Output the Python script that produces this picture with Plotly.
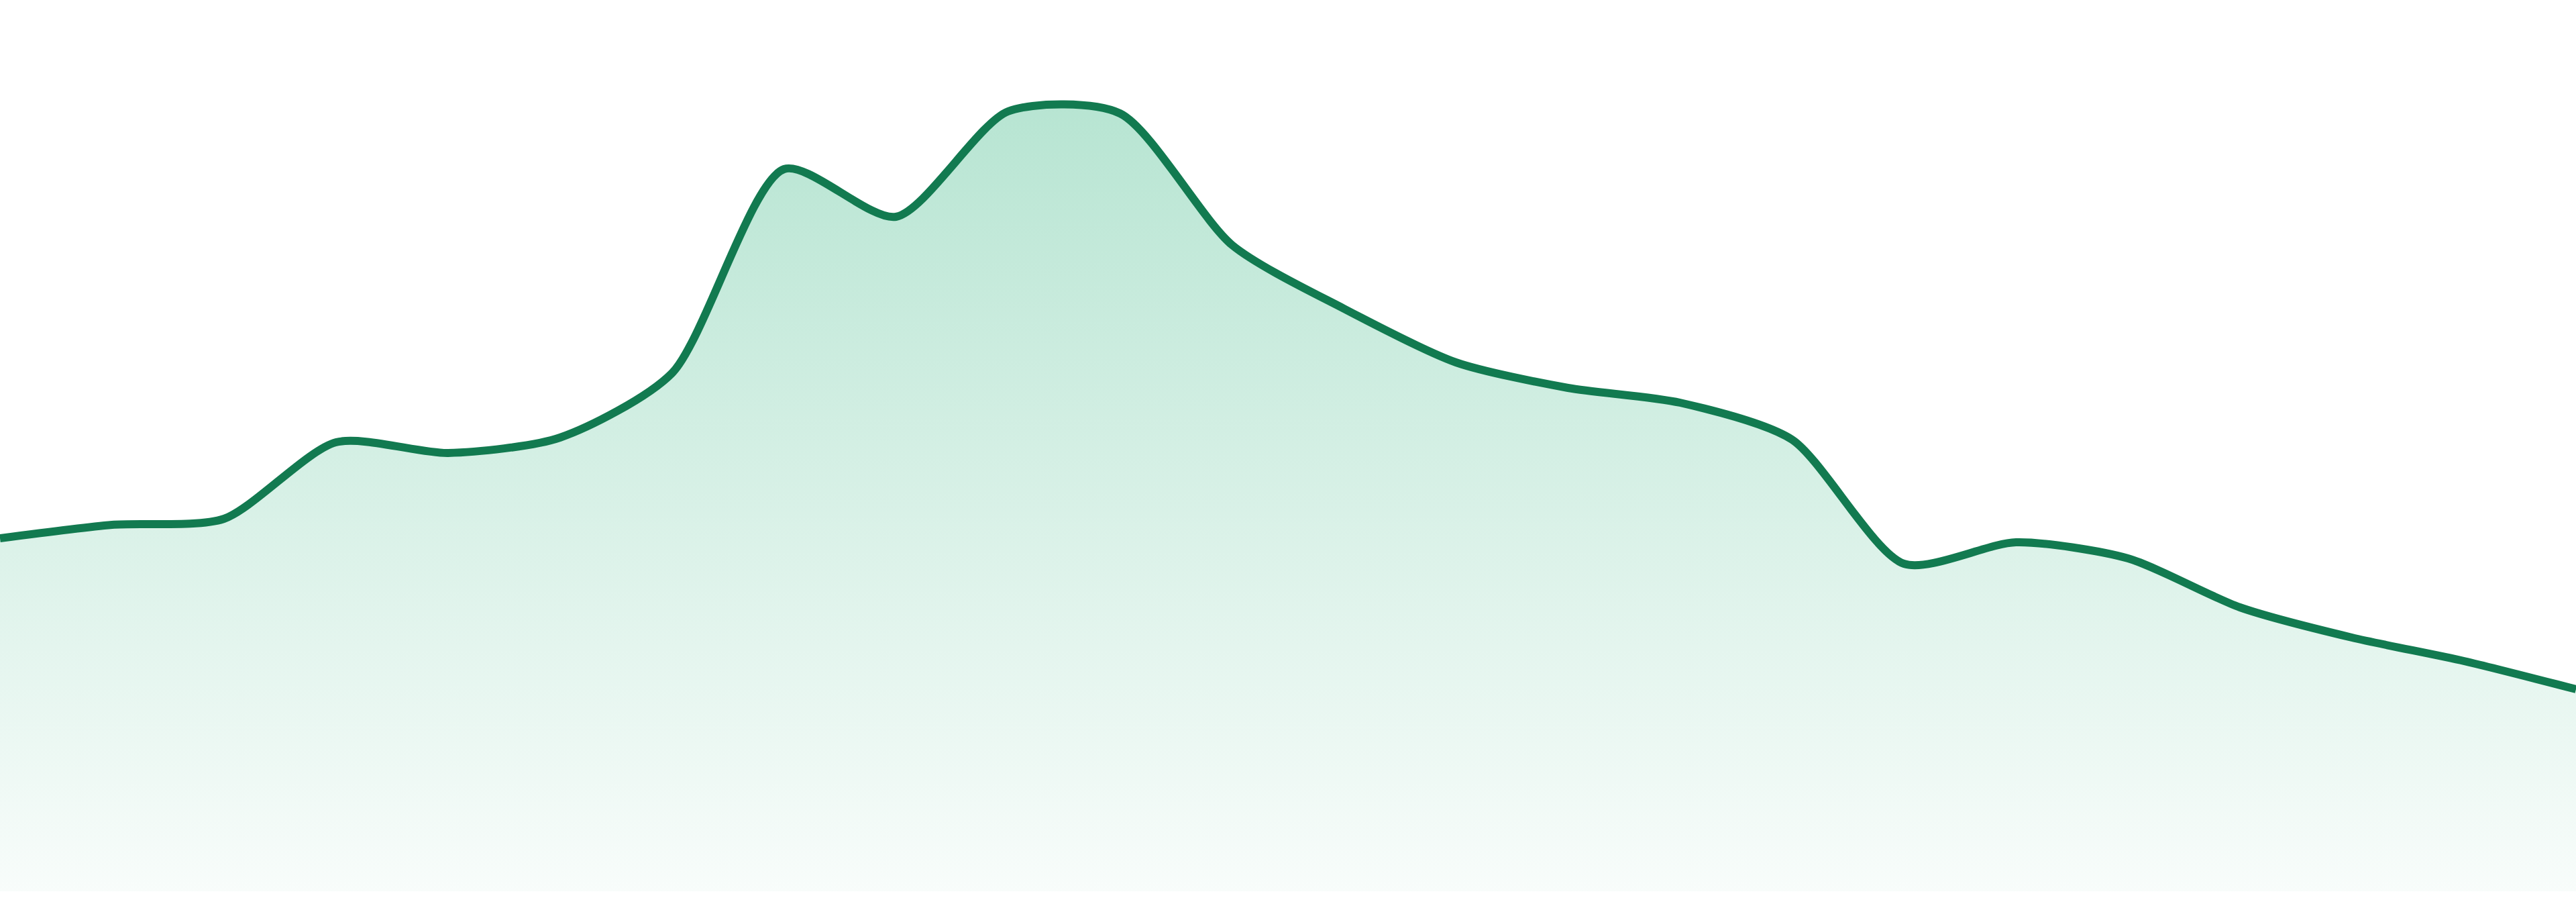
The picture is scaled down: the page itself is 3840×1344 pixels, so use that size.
import plotly.graph_objects as go

# hourly readings, 24 points
hours = list(range(24))
values = [52.6, 54.6, 55.5, 66.9, 65.3, 67.6, 77.2, 107.6, 100.5, 116.2, 115.9, 96.3,
          86.8, 78.8, 75.0, 72.8, 67.3, 48.8, 52.0, 49.6, 42.3, 37.8, 34.3, 30.1]

line_color = '#127a50'

fig = go.Figure(
    data=[
        go.Scatter(
            x=hours,
            y=values,
            mode='lines',
            line=dict(color=line_color, width=12, shape='spline', smoothing=0.72),
            fill='tozeroy',
            fillgradient=dict(
                type='vertical',
                colorscale=[[0, 'rgba(23,170,110,0.03)'], [1, 'rgba(23,170,110,0.31)']]
            ),
            hoverinfo='skip',
            showlegend=False
        )
    ],
    layout=go.Layout(
        width=3840,
        height=1344,
        margin=dict(l=0, r=0, t=0, b=16),
        paper_bgcolor='white',
        plot_bgcolor='white',
        xaxis=dict(visible=False, range=[0, 23], fixedrange=True),
        yaxis=dict(visible=False, range=[0, 132.8], fixedrange=True),
    )
)

# page sits flush in the window, no scrolling
page_fix = ("document.body.style.margin='0';"
            "document.body.style.overflow='hidden';"
            "window.scrollTo(0, 0);")
fig.write_html("out.html", config={'displayModeBar': False, 'staticPlot': True},
               post_script=page_fix)
